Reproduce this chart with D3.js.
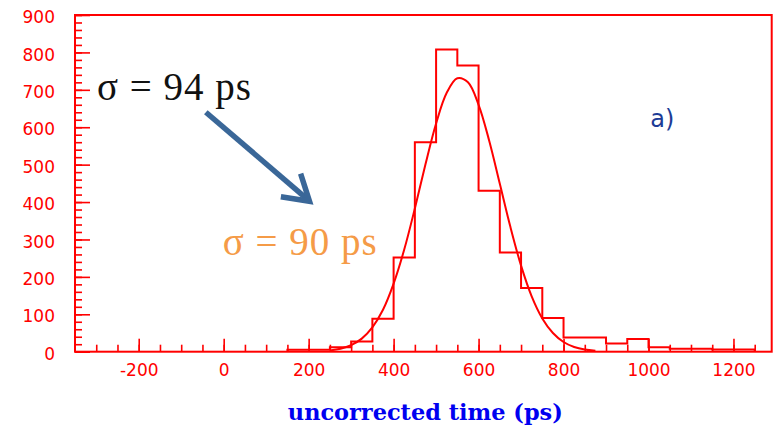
<!DOCTYPE html>
<html>
<head>
<meta charset="utf-8">
<script src="https://cdn.jsdelivr.net/npm/d3@7"></script>
<style>
  html, body { margin: 0; padding: 0; background: #fff; }
  svg { display: block; }
</style>
</head>
<body>
<div id="chart"></div>
<script>
(function () {

  // histogram: left edge of each 50 ps bin, and the counts
  const binStart = [150, 200, 250, 300, 350, 400, 450, 500, 550, 600, 650, 700,
                    750, 800, 850, 900, 950, 1000, 1050, 1100, 1150, 1200];
  const binCounts = [5, 5, 12, 27, 88, 252, 560, 808, 765, 430, 265, 170,
                     90, 38, 38, 22, 34, 12, 8, 8, 6, 6];
  const binWidth = 50;

  // gaussian fit
  const fitTime = [250, 275, 300, 325, 350, 375, 400, 425, 450, 475, 500, 525, 550,
                   575, 600, 625, 650, 675, 700, 725, 750, 775, 800, 825, 850, 875];
  const fitValue = [3.5, 8, 17.5, 35, 65, 112, 182, 273, 383, 501, 610, 692, 731,
                    720, 660, 564, 449, 333, 230, 148, 89, 50, 26, 12.6, 5.7, 2.4];

  // axis ticks
  const xMajorTicks = [-200, 0, 200, 400, 600, 800, 1000, 1200];
  const xMinorTicks = d3.range(-300, 1290, 50);
  const yMajorTicks = [0, 100, 200, 300, 400, 500, 600, 700, 800, 900];
  const yMinorTicks = d3.range(0, 901, 20);

  // labels
  const xTitle = 'uncorrected time (ps)';
  const sigmaBefore = 'σ = 94 ps';
  const sigmaAfter = 'σ = 90 ps';
  const panelLabel = 'a)';

  //////////////////////////////////////////////////////////////////////////////

  const width = 779;
  const height = 429;
  const red = '#ff0000';
  const fmt = d3.format('d');

  const x = d3.scaleLinear().domain([-350, 1290]).range([75, 771.7]);
  const y = d3.scaleLinear().domain([0, 900]).range([351.7, 15]);

  const svg = d3.select('#chart').append('svg')
    .attr('width', width)
    .attr('height', height);

  ///////////
  // axes  //
  ///////////

  function styleTicks(g, w) {
    g.select('.domain').remove();
    g.selectAll('line').attr('stroke', red).attr('stroke-width', w);
  }

  // y ticks point into the frame
  svg.append('g')
    .attr('transform', `translate(${x(-350)},0)`)
    .call(d3.axisRight(y).tickValues(yMinorTicks).tickSize(7).tickFormat(''))
    .call(styleTicks, 1.6);
  svg.append('g')
    .attr('transform', `translate(${x(-350)},0)`)
    .call(d3.axisRight(y).tickValues(yMajorTicks).tickSize(15).tickFormat(''))
    .call(styleTicks, 1.6);

  const yLabels = svg.append('g')
    .attr('transform', `translate(${x(-350)},0)`)
    .call(d3.axisLeft(y).tickValues(yMajorTicks).tickSize(0).tickPadding(20).tickFormat(fmt));
  yLabels.select('.domain').remove();
  yLabels.selectAll('text')
    .attr('dy', '0.45em')
    .attr('fill', red)
    .style('font-family', 'DejaVu Sans')
    .style('font-size', '17px');

  // x ticks point up
  svg.append('g')
    .attr('transform', `translate(0,${y(0)})`)
    .call(d3.axisTop(x).tickValues(xMinorTicks).tickSize(7).tickFormat(''))
    .call(styleTicks, 1.6);
  svg.append('g')
    .attr('transform', `translate(0,${y(0)})`)
    .call(d3.axisTop(x).tickValues(xMajorTicks).tickSize(13).tickFormat(''))
    .call(styleTicks, 1.6);

  const xLabels = svg.append('g')
    .attr('transform', `translate(0,${y(0)})`)
    .call(d3.axisBottom(x).tickValues(xMajorTicks).tickSize(0).tickPadding(12)
      .tickFormat((d) => String(d)));
  xLabels.select('.domain').remove();
  xLabels.selectAll('text')
    .attr('fill', red)
    .style('font-family', 'DejaVu Sans')
    .style('font-size', '17px');

  // frame
  svg.append('rect')
    .attr('x', x(-350))
    .attr('y', y(900))
    .attr('width', x(1290) - x(-350))
    .attr('height', y(0) - y(900))
    .attr('fill', 'none')
    .attr('stroke', red)
    .attr('stroke-width', 2);

  ///////////////
  // histogram //
  ///////////////

  const histPoints = [[binStart[0], 0]];
  binStart.forEach((lo, i) => {
    histPoints.push([lo, binCounts[i]]);
    histPoints.push([lo + binWidth, binCounts[i]]);
  });
  histPoints.push([binStart[binStart.length - 1] + binWidth, 0]);

  const line = d3.line()
    .x((d) => x(d[0]))
    .y((d) => y(d[1]));

  svg.append('path')
    .attr('d', line(histPoints))
    .attr('fill', 'none')
    .attr('stroke', red)
    .attr('stroke-width', 2);

  // fit curve
  const fitLine = d3.line()
    .x((d, i) => x(fitTime[i]))
    .y((d) => y(d))
    .curve(d3.curveCatmullRom);

  svg.append('path')
    .attr('d', fitLine(fitValue))
    .attr('fill', 'none')
    .attr('stroke', red)
    .attr('stroke-width', 2);

  /////////////////
  // annotations //
  /////////////////

  svg.append('text')
    .attr('x', x(-298))
    .attr('y', y(674))
    .attr('fill', '#111')
    .style('font-family', 'Liberation Serif')
    .style('font-size', '39px')
    .style('letter-spacing', '1px')
    .text(sigmaBefore);

  svg.append('text')
    .attr('x', x(-2))
    .attr('y', y(259))
    .attr('fill', '#f59b47')
    .style('font-family', 'Liberation Serif')
    .style('font-size', '39px')
    .style('letter-spacing', '1px')
    .text(sigmaAfter);

  // arrow from the old sigma to the new one
  const arrowFrom = [x(-42), y(640)];
  const arrowTo = [x(202), y(402)];
  const ang = Math.atan2(arrowTo[1] - arrowFrom[1], arrowTo[0] - arrowFrom[0]);
  const headLen = 29;
  const wing = (a) => [arrowTo[0] - headLen * Math.cos(ang + a), arrowTo[1] - headLen * Math.sin(ang + a)];

  const arrow = svg.append('g')
    .attr('stroke', '#3a6798')
    .attr('stroke-width', 5.5)
    .attr('stroke-linecap', 'butt')
    .attr('fill', 'none');
  arrow.append('line')
    .attr('x1', arrowFrom[0]).attr('y1', arrowFrom[1])
    .attr('x2', arrowTo[0] - 2).attr('y2', arrowTo[1] - 2);
  arrow.append('path')
    .attr('stroke-linejoin', 'miter')
    .attr('d', d3.line()([wing(-0.55), arrowTo, wing(0.55)]));

  svg.append('text')
    .attr('x', x(1004))
    .attr('y', y(600))
    .attr('fill', '#1d3c96')
    .style('font-family', 'DejaVu Sans')
    .style('font-size', '24px')
    .text(panelLabel);

  svg.append('text')
    .attr('x', (x(-350) + x(1290)) / 2 + 2)
    .attr('y', 420)
    .attr('text-anchor', 'middle')
    .attr('fill', '#0000f0')
    .style('font-family', 'DejaVu Serif')
    .style('font-weight', 'bold')
    .style('font-size', '23px')
    .attr('textLength', 275)
    .attr('lengthAdjust', 'spacingAndGlyphs')
    .text(xTitle);

})();
</script>
</body>
</html>
